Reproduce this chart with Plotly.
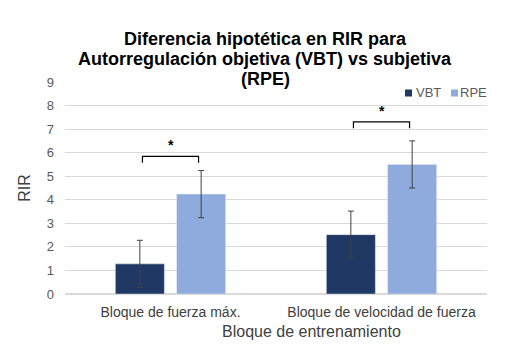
import plotly.graph_objects as go

categories = ["Bloque de fuerza máx.", "Bloque de velocidad de fuerza"]
vbt_values = [1.28, 2.52]
rpe_values = [4.24, 5.50]
vbt_err = [1.0, 1.0]
rpe_err = [1.0, 1.0]
y_ticks = [0, 1, 2, 3, 4, 5, 6, 7, 8, 9]
sig_heights = [5.84, 7.31]
sig_labels = ["*", "*"]
title_lines = ["Diferencia hipotética en RIR para",
               "Autorregulación objetiva (VBT) vs subjetiva",
               "(RPE)"]
series_names = ["VBT", "RPE"]
series_colors = ["#203864", "#8FAADC"]

W, H = 508, 354
L, R, T, B = 65, 21, 82, 60
PW, PH = W - L - R, H - T - B


def px_x(px):
    return (px - L) / PW


def px_y(py):
    return 1 + (T - py) / PH


fig = go.Figure()
for name, vals, errs, col in zip(series_names, [vbt_values, rpe_values], [vbt_err, rpe_err], series_colors):
    fig.add_trace(go.Bar(
        name=name, x=categories, y=vals, marker_color=col, showlegend=False,
        error_y=dict(type="data", array=errs, color="#404040", thickness=1, width=3),
    ))

half = 0.133
drop = 0.27
for i, h in enumerate(sig_heights):
    fig.add_shape(type="path", xref="x", yref="y",
                  path=f"M {i-half} {h-drop} L {i-half} {h} L {i+half} {h} L {i+half} {h-drop}",
                  line=dict(color="black", width=1.2))
    fig.add_annotation(x=i, y=h, xref="x", yref="y", text=f"<b>{sig_labels[i]}</b>",
                       showarrow=False, yanchor="bottom", yshift=1,
                       font=dict(family="Liberation Sans, Arial", size=14, color="black"))

# title lines
for line, cy in zip(title_lines, [39, 59, 79]):
    fig.add_annotation(x=px_x(265), y=px_y(cy), xref="paper", yref="paper", text=f"<b>{line}</b>",
                       showarrow=False, xanchor="center", yanchor="middle",
                       font=dict(family="Liberation Sans, Arial", size=18, color="black"))

# legend
leg_items = [(405, 415), (451, 459)]
for (sx, tx), name, col in zip(leg_items, series_names, series_colors):
    fig.add_shape(type="rect", xref="paper", yref="paper",
                  x0=px_x(sx), x1=px_x(sx + 7), y0=px_y(96.5), y1=px_y(89.5),
                  fillcolor=col, line=dict(width=0))
    fig.add_annotation(x=px_x(tx - 1), y=px_y(92.5), xref="paper", yref="paper", text=name,
                       showarrow=False, xanchor="left", yanchor="middle",
                       font=dict(family="Liberation Sans, Arial", size=13, color="#595959"))

# x-axis title
fig.add_annotation(x=px_x(311.5), y=px_y(331), xref="paper", yref="paper",
                   text="Bloque de entrenamiento", showarrow=False,
                   xanchor="center", yanchor="middle",
                   font=dict(family="Liberation Sans, Arial", size=16, color="#404040"))

fig.update_layout(
    width=W, height=H,
    margin=dict(l=L, r=R, t=T, b=B),
    paper_bgcolor="white", plot_bgcolor="white",
    barmode="group", bargap=0.419, bargroupgap=0.2,
    showlegend=False,
    font=dict(family="Liberation Sans, Arial", color="#595959"),
    xaxis=dict(showgrid=False, showline=False, ticks="",
               tickfont=dict(size=14, color="#404040"), ticklabelstandoff=8),
    yaxis=dict(range=[0, 9], tickvals=y_ticks, showgrid=True, gridcolor="#D9D9D9", gridwidth=1,
               zeroline=True, zerolinecolor="#D9D9D9", showline=False, ticks="",
               tickfont=dict(size=13, color="#595959"), ticklabelstandoff=10,
               title=dict(text="RIR", font=dict(size=16, color="#404040"), standoff=12)),
)

fig.write_html("out.html")
